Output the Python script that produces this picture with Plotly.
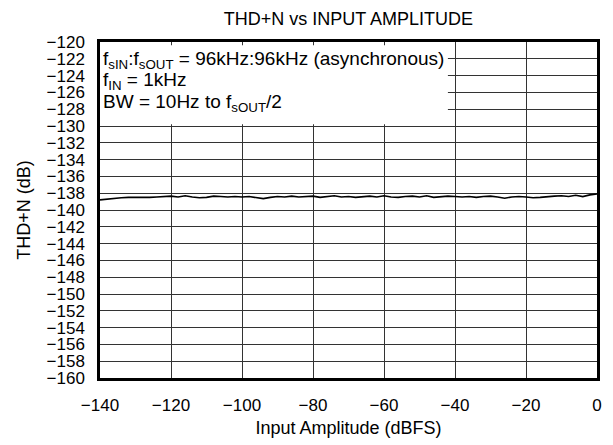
import plotly.graph_objects as go

# input amplitude (dBFS) and THD+N (dB)
input_dbfs = list(range(-140, 1, 2))
thdn_db = [
    -138.8, -138.7, -138.6, -138.55, -138.5, -138.5, -138.55, -138.5, -138.45, -138.4,
    -138.35, -138.45, -138.3, -138.45, -138.55, -138.5, -138.35, -138.4, -138.45, -138.4,
    -138.45, -138.4, -138.5, -138.65, -138.5, -138.4, -138.45, -138.35, -138.45, -138.4,
    -138.35, -138.5, -138.4, -138.3, -138.45, -138.4, -138.5, -138.4, -138.35, -138.45,
    -138.3, -138.45, -138.5, -138.4, -138.35, -138.45, -138.3, -138.5, -138.4, -138.35,
    -138.4, -138.45, -138.4, -138.5, -138.4, -138.35, -138.45, -138.6, -138.45, -138.4,
    -138.45, -138.55, -138.5, -138.4, -138.35, -138.3, -138.4, -138.25, -138.4, -138.2,
    -138.1,
]

x_ticks = list(range(-140, 1, 20))
y_ticks = list(range(-160, -119, 2))

note_lines = [
    "f<sub>sIN</sub>:f<sub>sOUT</sub> = 96kHz:96kHz (asynchronous)",
    "f<sub>IN</sub> = 1kHz",
    "BW = 10Hz to f<sub>sOUT</sub>/2",
]
note_y = [-122.15, -124.65, -127.3]

font = "Liberation Sans, Arial, sans-serif"

fig = go.Figure()
fig.add_trace(go.Scatter(x=input_dbfs, y=thdn_db, mode="lines",
                         line=dict(color="black", width=1.6), showlegend=False))

# white box behind the conditions text, hides the grid there
fig.add_shape(type="rect", xref="x", yref="y", x0=-140, x1=-42.0, y0=-129.8, y1=-120.4,
              fillcolor="white", line=dict(width=0), layer="between")
for txt, yy in zip(note_lines, note_y):
    fig.add_annotation(x=-139.4, y=yy, xref="x", yref="y", text=txt, showarrow=False,
                       xanchor="left", yanchor="middle", align="left", borderpad=0,
                       font=dict(family=font, size=19, color="black"))

axis_common = dict(showline=True, linecolor="black", linewidth=2.5, mirror=True,
                   showgrid=True, gridcolor="#333333", gridwidth=1, zeroline=False,
                   ticks="", tickfont=dict(family=font, size=17, color="black"))

fig.update_xaxes(range=[-140, 0], tickvals=x_ticks, ticklabelstandoff=10,
                 title=dict(text="Input Amplitude (dBFS)", font=dict(family=font, size=18, color="black"), standoff=8),
                 **axis_common)
fig.update_yaxes(range=[-160, -120], tickvals=y_ticks, ticklabelstandoff=9,
                 title=dict(text="THD+N (dB)", font=dict(family=font, size=18, color="black"), standoff=12),
                 **axis_common)

fig.update_layout(
    width=613, height=445,
    margin=dict(l=100, r=16, t=42, b=67, autoexpand=False),
    plot_bgcolor="white", paper_bgcolor="white",
    title=dict(text="THD+N vs INPUT AMPLITUDE", x=0.5683, xanchor="center", y=0.958, yanchor="middle",
               font=dict(family=font, size=18, color="black")),
)

# drop the browser's default body margin so the figure sits at the page corner
fig.write_html("out.html", config={"displayModeBar": False},
               post_script="document.body.style.margin='0';")
